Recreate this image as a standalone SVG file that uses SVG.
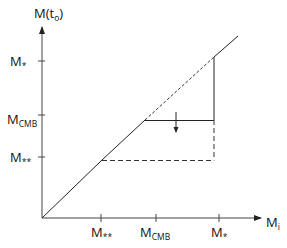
<svg xmlns="http://www.w3.org/2000/svg" width="287" height="248" viewBox="0 0 287 248">
<defs>
<marker id="ah" markerWidth="8" markerHeight="6" refX="7" refY="3" orient="auto" markerUnits="userSpaceOnUse">
<path d="M0,0 L8,3 L0,6 Z" fill="#222"/>
</marker>
<marker id="ahs" markerWidth="6" markerHeight="6" refX="5" refY="3" orient="auto" markerUnits="userSpaceOnUse">
<path d="M0,0.5 L6,3 L0,5.5 Z" fill="#222"/>
</marker>
<style>
.ax{stroke:#444;stroke-width:1;fill:none}
.ln{stroke:#222;stroke-width:1;fill:none}
.dl{stroke:#333;stroke-width:1;fill:none;stroke-dasharray:5 3}
.dd{stroke:#333;stroke-width:1;fill:none;stroke-dasharray:3 2}
.lb{font-family:"Open Sans","Liberation Sans",sans-serif;font-size:13px;fill:#111}
.sb{font-size:8.5px}
</style>
</defs>
<g id="axes">
<line class="ax" x1="42" y1="218" x2="42" y2="27" marker-end="url(#ah)"/>
<line class="ax" x1="42" y1="218" x2="261" y2="218" marker-end="url(#ah)"/>
<line class="ax" x1="38" y1="61" x2="45" y2="61"/>
<line class="ax" x1="38" y1="115" x2="45" y2="115"/>
<line class="ax" x1="38" y1="157" x2="45" y2="157"/>
<line class="ax" x1="101" y1="214" x2="101" y2="222"/>
<line class="ax" x1="156" y1="214" x2="156" y2="222"/>
<line class="ax" x1="219" y1="214" x2="219" y2="222"/>
</g>
<g id="labels">
<text class="lb" x="34" y="18">M(t<tspan class="sb" dy="3">o</tspan><tspan dy="-3">)</tspan></text>
<text class="lb" x="10" y="66">M<tspan class="sb" dy="3">*</tspan></text>
<text class="lb" x="7" y="124">M<tspan class="sb" dy="3">CMB</tspan></text>
<text class="lb" x="10" y="162">M<tspan class="sb" dy="3">**</tspan></text>
<text class="lb" x="91" y="237">M<tspan class="sb" dy="3">**</tspan></text>
<text class="lb" x="140" y="237">M<tspan class="sb" dy="3">CMB</tspan></text>
<text class="lb" x="211" y="237">M<tspan class="sb" dy="3">*</tspan></text>
<text class="lb" x="266" y="227">M<tspan class="sb" dy="3">i</tspan></text>
</g>
<g id="connectors">
<polyline class="ln" points="42,218 102,160 145,120"/>
<line class="dd" x1="145" y1="120" x2="214" y2="57"/>
<line class="ln" x1="214" y1="57" x2="238" y2="36"/>
<line class="ln" x1="145" y1="120.5" x2="214" y2="120.5"/>
<line class="ln" x1="214" y1="57" x2="214" y2="120"/>
<line class="dl" x1="214" y1="120" x2="214" y2="160.5"/>
<line class="dl" x1="102" y1="160.5" x2="214" y2="160.5"/>
<line class="ln" x1="176" y1="112" x2="176" y2="132" marker-end="url(#ahs)"/>
</g>
</svg>
